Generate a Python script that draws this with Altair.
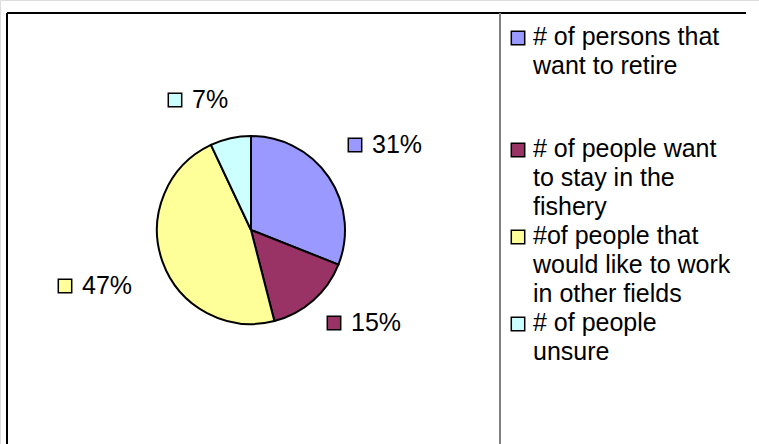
import altair as alt
import pandas as pd

# ---- data ----
categories = [
    "# of persons that want to retire",
    "# of people want to stay in the fishery",
    "#of people that would like to work in other fields",
    "# of people unsure",
]
percents = [31, 15, 47, 7]
colors = ["#9999FF", "#993366", "#FFFF99", "#CCFFFF"]
legend_labels = [
    "# of persons that\nwant to retire",
    "# of people want\nto stay in the\nfishery",
    "#of people that\nwould like to work\nin other fields",
    "# of people\nunsure",
]

FONT = "Liberation Sans"
W, H = 759, 444
CX, CY, R = 251, 230, 94

df = pd.DataFrame({
    "cat": categories,
    "value": percents,
    "idx": list(range(len(categories))),
    "pct": [f"{p}%" for p in percents],
    "leg": legend_labels,
})

# layout (pixel placement of data labels and legend entries)
label_sq_x = [355, 334, 65, 175]
label_sq_y = [145, 323, 286, 100]
legend_sq_y = [38, 150, 237, 324]
legend_txt_y = [25, 137, 224, 311]

df["lsx"] = label_sq_x
df["lsy"] = label_sq_y
df["ltx"] = [x + 17 for x in label_sq_x]
df["gsy"] = legend_sq_y
df["gty"] = legend_txt_y

color = alt.Color("cat:N", scale=alt.Scale(domain=categories, range=colors), legend=None)
base = alt.Chart(df)

pie = base.mark_arc(radius=R, stroke="black", strokeWidth=2).encode(
    theta=alt.Theta("value:Q", stack=True),
    color=color,
    order=alt.Order("idx:Q"),
    x=alt.value(CX),
    y=alt.value(CY),
)

lab_sq = base.mark_square(size=180, stroke="black", strokeWidth=1.5, opacity=1).encode(
    x=alt.X("lsx:Q", scale=None),
    y=alt.Y("lsy:Q", scale=None),
    color=color,
)
lab_txt = base.mark_text(align="left", baseline="middle", font=FONT, fontSize=25, color="black").encode(
    x=alt.X("ltx:Q", scale=None),
    y=alt.Y("lsy:Q", scale=None),
    text="pct:N",
)

leg_sq = base.mark_square(size=180, stroke="black", strokeWidth=1.5, opacity=1).encode(
    x=alt.value(518),
    y=alt.Y("gsy:Q", scale=None),
    color=color,
)
leg_txt = base.mark_text(align="left", baseline="top", font=FONT, fontSize=25,
                         lineBreak="\n", lineHeight=29, color="black").encode(
    x=alt.value(533),
    y=alt.Y("gty:Q", scale=None),
    text="leg:N",
)

frame_top = alt.Chart(pd.DataFrame({"a": [0]})).mark_rule(color="black", strokeWidth=2).encode(
    x=alt.value(7), x2=alt.value(746), y=alt.value(13))
frame_left = alt.Chart(pd.DataFrame({"a": [0]})).mark_rule(color="black", strokeWidth=2).encode(
    x=alt.value(7), y=alt.value(13), y2=alt.value(H))
divider = alt.Chart(pd.DataFrame({"a": [0]})).mark_rule(color="#808080", strokeWidth=2).encode(
    x=alt.value(500), y=alt.value(13), y2=alt.value(H))

chart = alt.layer(frame_top, frame_left, divider, pie, lab_sq, lab_txt, leg_sq, leg_txt).properties(
    width=W, height=H, autosize=alt.AutoSizeParams(type="none"), padding=0,
).configure_view(stroke=None).configure(background="white")

chart.save("out.html", embed_options={"renderer": "svg", "actions": False})
